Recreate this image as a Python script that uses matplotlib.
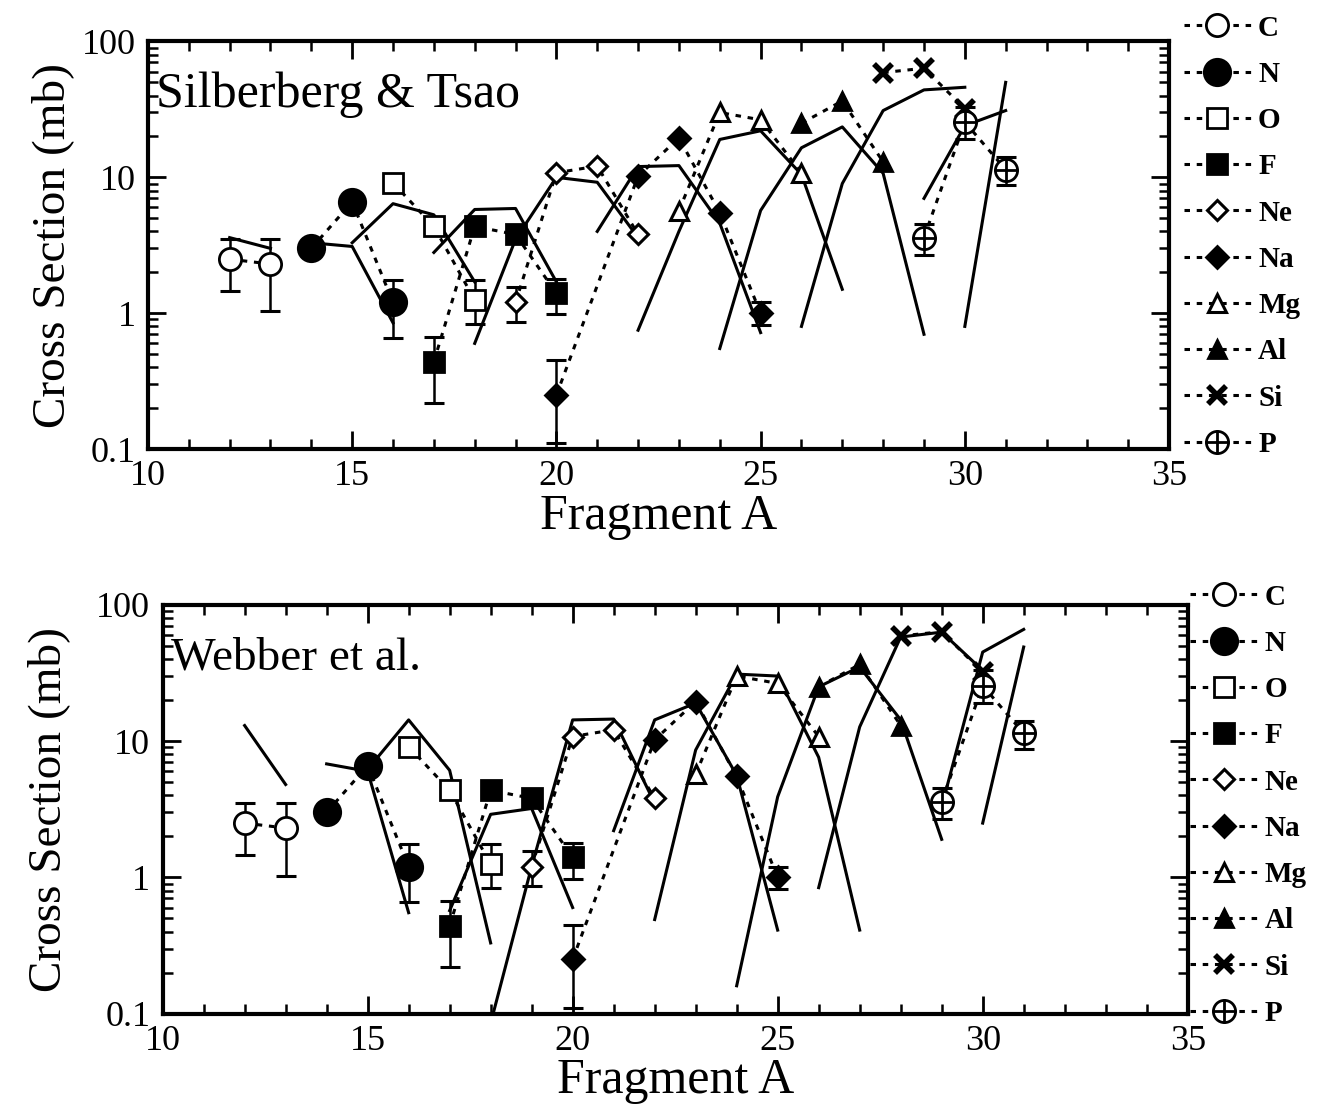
import matplotlib
matplotlib.use('Agg')
import numpy as np
import matplotlib.pyplot as plt
from matplotlib.lines import Line2D
from matplotlib.ticker import FixedLocator, MultipleLocator, LogLocator, NullFormatter

plt.rcParams['font.family'] = ['Liberation Serif', 'DejaVu Serif']

# ---------------- data (measured cross sections, same in both panels) ----------------
elements = ['C', 'N', 'O', 'F', 'Ne', 'Na', 'Mg', 'Al', 'Si', 'P']

C_x = [12, 13];            C_y = [2.5, 2.3];          C_lo = [1.45, 1.03];  C_hi = [3.5, 3.5]
N_x = [14, 15, 16];        N_y = [3.0, 6.6, 1.2];     N_lo = [3.0, 6.6, 0.66]; N_hi = [3.0, 6.6, 1.75]
O_x = [16, 17, 18];        O_y = [9.1, 4.35, 1.25];   O_lo = [9.1, 4.35, 0.83]; O_hi = [9.1, 4.35, 1.75]
F_x = [17, 18, 19, 20];    F_y = [0.44, 4.35, 3.8, 1.4]
F_lo = [0.22, 4.35, 3.8, 0.98]; F_hi = [0.67, 4.35, 3.8, 1.78]
Ne_x = [19, 20, 21, 22];   Ne_y = [1.2, 10.8, 12.1, 3.8]
Ne_lo = [0.86, 10.8, 12.1, 3.8]; Ne_hi = [1.55, 10.8, 12.1, 3.8]
Na_x = [20, 22, 23, 24, 25]; Na_y = [0.25, 10.2, 19.5, 5.5, 1.0]
Na_lo = [0.11, 10.2, 19.5, 5.5, 0.82]; Na_hi = [0.45, 10.2, 19.5, 5.5, 1.2]
Mg_x = [23, 24, 25, 26];   Mg_y = [5.7, 30.0, 26.5, 10.8]
Al_x = [26, 27, 28];       Al_y = [25.0, 36.5, 13.0]
Si_x = [28, 29, 30];       Si_y = [59.0, 63.5, 32.0]
P_x = [29, 30, 31];        P_y = [3.6, 25.5, 11.4]
P_lo = [2.7, 19.0, 8.8];   P_hi = [4.5, 33.0, 14.0]

# ---------------- model curves: Silberberg & Tsao (top) ----------------
st_C_x = [12, 13];                 st_C_y = [3.6, 3.0]
st_N_x = [14, 15, 16];             st_N_y = [3.3, 3.1, 0.85]
st_O_x = [15, 16, 17, 18];         st_O_y = [3.3, 6.4, 5.3, 1.7]
st_F_x = [17, 18, 19, 20];         st_F_y = [2.8, 5.8, 5.9, 1.7]
st_Ne_x = [18, 19, 20, 21, 22];    st_Ne_y = [0.6, 3.5, 10.0, 9.2, 3.6]
st_Na_x = [21, 22, 23, 24, 25];    st_Na_y = [4.0, 12.0, 12.2, 4.6, 0.72]
st_Mg_x = [22, 23, 24, 25, 26, 27]; st_Mg_y = [0.75, 4.0, 19.0, 22.0, 10.5, 1.5]
st_Al_x = [24, 25, 26, 27, 28, 29]; st_Al_y = [0.55, 5.7, 16.5, 23.5, 10.7, 0.7]
st_Si_x = [26, 27, 28, 29, 30];    st_Si_y = [0.8, 9.0, 31.0, 44.0, 46.0]
st_P_x = [29, 30, 31];             st_P_y = [7.0, 24.0, 31.0]
st_S_x = [30, 31];                 st_S_y = [0.8, 50.0]

# ---------------- model curves: Webber et al. (bottom) ----------------
wb_C_x = [12, 13];                 wb_C_y = [13.0, 4.8]
wb_N_x = [14, 15, 16];             wb_N_y = [6.8, 6.0, 0.55]
wb_O_x = [15, 16, 17, 18];         wb_O_y = [6.2, 14.3, 6.1, 0.33]
wb_F_x = [17, 18, 19, 20];         wb_F_y = [0.57, 2.9, 3.2, 0.6]
wb_Ne_x = [18, 19, 20, 21, 22];    wb_Ne_y = [0.085, 1.2, 14.3, 14.5, 3.5]
wb_Na_x = [21, 22, 23, 24, 25];    wb_Na_y = [2.2, 14.3, 19.0, 5.6, 0.41]
wb_Mg_x = [22, 23, 24, 25, 26, 27]; wb_Mg_y = [0.49, 8.6, 31.0, 30.0, 7.6, 0.41]
wb_Al_x = [24, 25, 26, 27, 28, 29]; wb_Al_y = [0.16, 3.9, 25.0, 35.0, 14.3, 1.9]
wb_Si_x = [26, 27, 28, 29, 30];    wb_Si_y = [0.84, 12.7, 58.0, 63.0, 33.0]
wb_P_x = [29, 30, 31];             wb_P_y = [3.3, 45.0, 66.0]
wb_S_x = [30, 31];                 wb_S_y = [2.5, 49.0]

x_ticks = [10, 15, 20, 25, 30, 35]
y_ticks = [0.1, 1, 10, 100]
y_tick_labels = ['0.1', '1', '10', '100']

# ---------------- assemble ----------------
data = {
    'C': (C_x, C_y, C_lo, C_hi),
    'N': (N_x, N_y, N_lo, N_hi),
    'O': (O_x, O_y, O_lo, O_hi),
    'F': (F_x, F_y, F_lo, F_hi),
    'Ne': (Ne_x, Ne_y, Ne_lo, Ne_hi),
    'Na': (Na_x, Na_y, Na_lo, Na_hi),
    'Mg': (Mg_x, Mg_y, Mg_y, Mg_y),
    'Al': (Al_x, Al_y, Al_y, Al_y),
    'Si': (Si_x, Si_y, Si_y, Si_y),
    'P': (P_x, P_y, P_lo, P_hi),
}
models_st = [(st_C_x, st_C_y), (st_N_x, st_N_y), (st_O_x, st_O_y), (st_F_x, st_F_y),
             (st_Ne_x, st_Ne_y), (st_Na_x, st_Na_y), (st_Mg_x, st_Mg_y), (st_Al_x, st_Al_y),
             (st_Si_x, st_Si_y), (st_P_x, st_P_y), (st_S_x, st_S_y)]
models_wb = [(wb_C_x, wb_C_y), (wb_N_x, wb_N_y), (wb_O_x, wb_O_y), (wb_F_x, wb_F_y),
             (wb_Ne_x, wb_Ne_y), (wb_Na_x, wb_Na_y), (wb_Mg_x, wb_Mg_y), (wb_Al_x, wb_Al_y),
             (wb_Si_x, wb_Si_y), (wb_P_x, wb_P_y), (wb_S_x, wb_S_y)]

styles = {
    'C': dict(marker='o', mfc='white', ms=16, mew=2),
    'N': dict(marker='o', mfc='black', ms=19, mew=2),
    'O': dict(marker='s', mfc='white', ms=14, mew=2),
    'F': dict(marker='s', mfc='black', ms=14, mew=2),
    'Ne': dict(marker='D', mfc='white', ms=10, mew=2.2),
    'Na': dict(marker='D', mfc='black', ms=11, mew=2),
    'Mg': dict(marker='^', mfc='white', ms=13, mew=2.2),
    'Al': dict(marker='^', mfc='black', ms=13, mew=2),
    'Si': dict(marker='x', mfc='black', ms=13, mew=4),
    'P': dict(marker='o', mfc='white', ms=16, mew=2),
}
dotted = (0, (1.8, 2.2))

fig = plt.figure(figsize=(13.33, 11.2), dpi=100)
ax1 = fig.add_axes([0.111, 0.599, 0.766, 0.364])
ax2 = fig.add_axes([0.122, 0.095, 0.769, 0.365])


def draw_panel(ax, models, title, title_fs, legend_anchor, ylabelpad):
    handles = []
    for el in elements:
        x, y, lo, hi = data[el]
        x = np.array(x, float); y = np.array(y, float)
        lo = np.array(lo, float); hi = np.array(hi, float)
        m = (lo < y) | (hi > y)
        if m.any():
            ax.errorbar(x[m], y[m], yerr=[y[m] - lo[m], hi[m] - y[m]], fmt='none',
                        ecolor='black', elinewidth=1.8, capsize=7, capthick=2.2, zorder=2)
        st = styles[el]
        ax.plot(x, y, linestyle=dotted, lw=2.2, color='black', mec='black', zorder=4, **st)
        if el == 'P':
            ax.plot(x, y, linestyle='none', marker='+', ms=16, mew=2, color='black', zorder=5)
            hl = Line2D([], [], linestyle=dotted, lw=2.2, color='black', mec='black', **st)
            hp = Line2D([], [], linestyle='none', marker='+', ms=16, mew=2, color='black')
            handles.append((hl, hp))
        else:
            handles.append(Line2D([], [], linestyle=dotted, lw=2.2, color='black', mec='black', **st))
    for mx, my in models:
        ax.plot(mx, my, '-', color='black', lw=2.2, zorder=3)

    ax.set_yscale('log')
    ax.set_xlim(10, 35)
    ax.set_ylim(0.1, 100)
    ax.xaxis.set_major_locator(FixedLocator(x_ticks))
    ax.xaxis.set_minor_locator(MultipleLocator(1))
    ax.yaxis.set_major_locator(FixedLocator(y_ticks))
    ax.set_yticklabels(y_tick_labels)
    ax.yaxis.set_minor_locator(LogLocator(base=10, subs=np.arange(2, 10)))
    ax.yaxis.set_minor_formatter(NullFormatter())
    ax.tick_params(which='both', direction='in', top=True, right=True, width=2, labelsize=26)
    ax.tick_params(axis='x', pad=8)
    ax.tick_params(axis='y', pad=9)
    ax.tick_params(which='major', length=13)
    ax.tick_params(which='minor', length=7, width=1.8)
    for s in ax.spines.values():
        s.set_linewidth(3)
    ax.set_xlabel('Fragment A', fontsize=36, labelpad=0)
    ax.set_ylabel('Cross Section (mb)', fontsize=34, labelpad=ylabelpad)
    ax.text(0.008, 0.87, title, transform=ax.transAxes, fontsize=title_fs, va='center', ha='left')

    leg = ax.legend(handles, elements, loc='upper left', bbox_to_anchor=legend_anchor,
                    bbox_transform=fig.transFigure, frameon=False, fontsize=21,
                    handlelength=2.3, handletextpad=0.25, labelspacing=0.66,
                    borderaxespad=0, borderpad=0, numpoints=1)
    for t in leg.get_texts():
        t.set_fontweight('bold')


draw_panel(ax1, models_st, 'Silberberg & Tsao', 36, (0.888, 0.987), 5)
draw_panel(ax2, models_wb, 'Webber et al.', 34, (0.893, 0.479), 19)

fig.savefig('out.png', dpi=100)
